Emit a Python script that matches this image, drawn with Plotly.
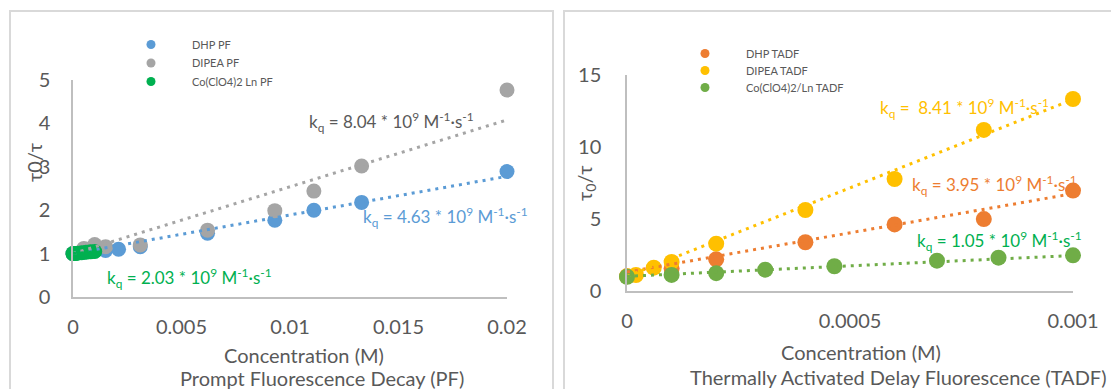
import plotly.graph_objects as go

# ---------------- Prompt fluorescence (PF) ----------------
pf_dhp_conc = [0, 0.0005, 0.001, 0.0015, 0.0021, 0.0031, 0.0062, 0.0093, 0.0111, 0.0133, 0.02]
pf_dhp_ratio = [1.0, 1.03, 1.06, 1.07, 1.10, 1.16, 1.47, 1.77, 2.00, 2.18, 2.89]

pf_dipea_conc = [0, 0.0005, 0.001, 0.0015, 0.0031, 0.0062, 0.0093, 0.0111, 0.0133, 0.02]
pf_dipea_ratio = [1.0, 1.12, 1.21, 1.16, 1.20, 1.54, 1.99, 2.44, 3.02, 4.77]

pf_co_conc = [0, 0.0001, 0.0002, 0.0004, 0.0006, 0.0008, 0.001]
pf_co_ratio = [1.0, 1.0, 1.01, 1.02, 1.03, 1.04, 1.05]

# linear trend lines (end points)
pf_dhp_fit_x, pf_dhp_fit_y = [0, 0.02], [1.0, 2.78]
pf_dipea_fit_x, pf_dipea_fit_y = [0, 0.02], [1.0, 4.08]
pf_co_fit_x, pf_co_fit_y = [0, 0.001], [1.0, 1.04]

# ---------------- TADF ----------------
tadf_dhp_conc = [0, 0.0001, 0.0002, 0.0004, 0.0006, 0.0008, 0.001]
tadf_dhp_ratio = [1.0, 1.55, 2.18, 3.37, 4.61, 4.98, 6.96]

tadf_dipea_conc = [0, 0.00002, 0.00006, 0.0001, 0.0002, 0.0004, 0.0006, 0.0008, 0.001]
tadf_dipea_ratio = [1.0, 1.09, 1.60, 2.00, 3.27, 5.61, 7.77, 11.18, 13.33]

tadf_co_conc = [0, 0.0001, 0.0002, 0.00031, 0.000465, 0.000695, 0.000833, 0.001]
tadf_co_ratio = [0.97, 1.10, 1.22, 1.46, 1.70, 2.09, 2.30, 2.46]

tadf_dhp_fit_x, tadf_dhp_fit_y = [0, 0.001], [1.3, 6.75]
tadf_dipea_fit_x, tadf_dipea_fit_y = [0, 0.001], [1.0, 13.3]
tadf_co_fit_x, tadf_co_fit_y = [0, 0.001], [1.0, 2.45]

pf_xticks = [0, 0.005, 0.01, 0.015, 0.02]
pf_xtick_text = ["0", "0.005", "0.01", "0.015", "0.02"]
pf_yticks = [0, 1, 2, 3, 4, 5]
tadf_xticks = [0, 0.0005, 0.001]
tadf_xtick_text = ["0", "0.0005", "0.001"]
tadf_yticks = [0, 5, 10, 15]

BLUE, GREY, GREEN = "#5B9BD5", "#A5A5A5", "#00B050"
ORANGE, YELLOW, LGREEN = "#ED7D31", "#FFC000", "#70AD47"
TXT = "#595959"
FONT = "Lato"

W, H = 1111, 389


def px(x):
    return x / W


def py(y):
    return 1 - y / H


fig = go.Figure()


def points(x, y, color, size, xa, ya):
    fig.add_trace(go.Scatter(x=x, y=y, mode="markers", xaxis=xa, yaxis=ya,
                             marker=dict(color=color, size=size, line=dict(width=0)),
                             cliponaxis=False, showlegend=False, hoverinfo="skip"))


def trend(x, y, color, xa, ya):
    fig.add_trace(go.Scatter(x=x, y=y, mode="lines", xaxis=xa, yaxis=ya,
                             line=dict(color=color, width=3, dash="3px,5px"),
                             cliponaxis=False, showlegend=False, hoverinfo="skip"))


# one single-entry legend per series so each row sits at its own height
legend_layout = {}


def legend_entry(name, color, key, xa, ya, left, center_y):
    fig.add_trace(go.Scatter(x=[None], y=[None], mode="markers", name=name,
                             marker=dict(color=color, size=9), legend=key,
                             xaxis=xa, yaxis=ya, hoverinfo="skip"))
    legend_layout[key] = dict(x=px(left), y=py(center_y - 13), xanchor="left", yanchor="top",
                              font=dict(family=FONT, size=11, color=TXT), itemwidth=72,
                              bgcolor="rgba(0,0,0,0)", borderwidth=0)


# left panel
points(pf_dhp_conc, pf_dhp_ratio, BLUE, 15, "x", "y")
points(pf_dipea_conc, pf_dipea_ratio, GREY, 15, "x", "y")
points(pf_co_conc, pf_co_ratio, GREEN, 15, "x", "y")
trend(pf_dhp_fit_x, pf_dhp_fit_y, BLUE, "x", "y")
trend(pf_dipea_fit_x, pf_dipea_fit_y, GREY, "x", "y")
trend(pf_co_fit_x, pf_co_fit_y, GREEN, "x", "y")
legend_entry("DHP PF", BLUE, "legend", "x", "y", 110, 43)
legend_entry("DIPEA PF", GREY, "legend2", "x", "y", 110, 61.5)
legend_entry("Co(ClO4)2 Ln PF", GREEN, "legend3", "x", "y", 110, 80)

# right panel
points(tadf_dhp_conc, tadf_dhp_ratio, ORANGE, 16, "x2", "y2")
points(tadf_dipea_conc, tadf_dipea_ratio, YELLOW, 16, "x2", "y2")
points(tadf_co_conc, tadf_co_ratio, LGREEN, 16, "x2", "y2")
trend(tadf_dhp_fit_x, tadf_dhp_fit_y, ORANGE, "x2", "y2")
trend(tadf_dipea_fit_x, tadf_dipea_fit_y, YELLOW, "x2", "y2")
trend(tadf_co_fit_x, tadf_co_fit_y, LGREEN, "x2", "y2")
legend_entry("DHP TADF", ORANGE, "legend4", "x2", "y2", 664, 52)
legend_entry("DIPEA TADF", YELLOW, "legend5", "x2", "y2", 664, 69)
legend_entry("Co(ClO4)2/Ln TADF", LGREEN, "legend6", "x2", "y2", 664, 86)

axis_common = dict(showgrid=False, zeroline=False, showline=True, linecolor="#BFBFBF",
                   linewidth=1.5, ticks="outside", tickcolor="rgba(0,0,0,0)",
                   automargin=False,
                   tickfont=dict(family=FONT, size=20, color=TXT), fixedrange=True)

fig.update_layout(
    template="none",
    width=W, height=H, margin=dict(l=0, r=0, t=0, b=0, pad=0), autosize=False,
    paper_bgcolor="white", plot_bgcolor="white",
    font=dict(family=FONT, color=TXT),
    xaxis=dict(domain=[px(73), px(507)], range=[0, 0.02], tickvals=pf_xticks,
               ticktext=pf_xtick_text, ticklen=11, anchor="y", **axis_common),
    yaxis=dict(domain=[py(297), py(80)], range=[0, 5], tickvals=pf_yticks,
               ticklen=17, anchor="x", **axis_common),
    xaxis2=dict(domain=[px(627), px(1073)], range=[0, 0.001], tickvals=tadf_xticks,
                ticktext=tadf_xtick_text, ticklen=12, anchor="y2", **axis_common),
    yaxis2=dict(domain=[py(290.7), py(75)], range=[0, 15], tickvals=tadf_yticks,
                ticklen=20, anchor="x2", **axis_common),
    showlegend=True,
    **legend_layout,
)


# panel frames (open outlines, kept inside the page)
def frame(points_xy):
    path = "M " + " L ".join(f"{px(x):.5f},{py(y):.5f}" for x, y in points_xy)
    fig.add_shape(type="path", xref="paper", yref="paper", path=path,
                  line=dict(color="#D9D9D9", width=2), layer="below")


frame([(10, 389), (10, 11), (553, 11), (553, 389)])
frame([(564, 389), (564, 11), (1111, 11)])


def label(text, x, y, size, color=TXT, anchor="center", angle=0):
    fig.add_annotation(text=text, x=px(x), y=py(y), xref="paper", yref="paper",
                       xanchor=anchor, yanchor="middle", showarrow=False, textangle=angle,
                       font=dict(family=FONT, size=size, color=color))


KQ = "k<sub>q</sub> = {} * 10<sup>9</sup> M<sup>-1</sup>·s<sup>-1</sup>"

# axis titles
label("Concentration (M)", 304, 355, 20)
label("Prompt Fluorescence Decay (PF)", 322, 378, 20)
label("τ0/τ", 34, 163, 20, angle=-90)
label("Concentration (M)", 861, 352, 20)
label("Thermally Activated Delay Fluorescence (TADF)", 898, 377, 20)
label("τ<sub>0</sub>/τ", 585, 183, 20, angle=-90)

# rate constants
label(KQ.format("8.04"), 307, 122, 17, "#595959", "left")
label(KQ.format("4.63"), 361, 217, 17, BLUE, "left")
label(KQ.format("2.03"), 105, 278, 17, GREEN, "left")
label(KQ.format("\u00a08.41"), 878, 108, 17, YELLOW, "left")
label(KQ.format("3.95"), 910, 185, 17, ORANGE, "left")
label(KQ.format("1.05"), 915, 241, 17, GREEN, "left")

fig.write_html("out.html")
